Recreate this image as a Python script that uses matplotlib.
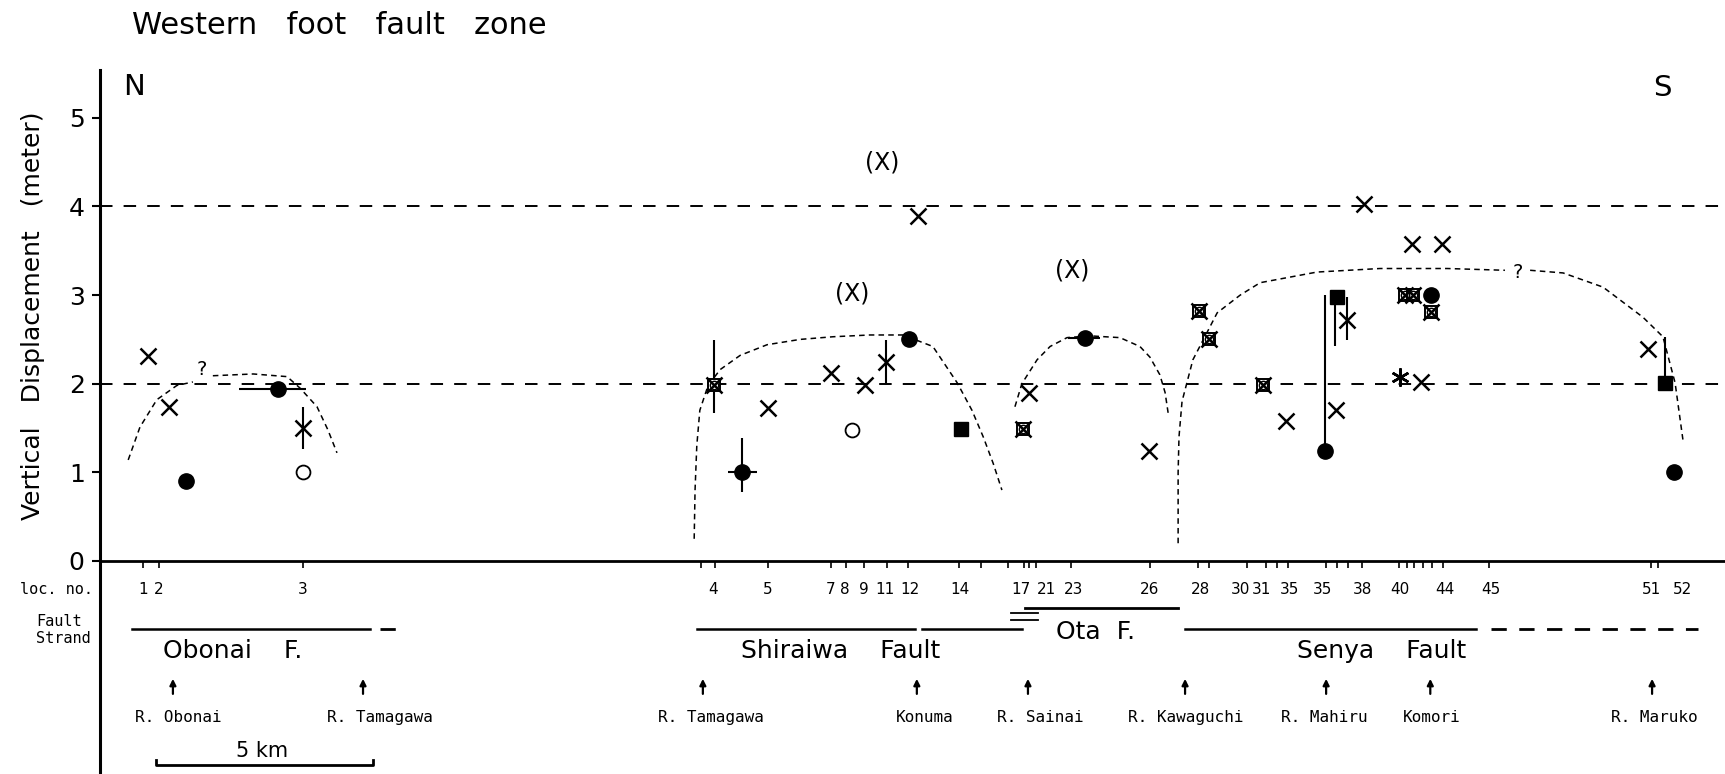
import matplotlib
matplotlib.use('Agg')
import matplotlib.pyplot as plt

plt.rcParams['lines.scale_dashes'] = False
plt.rcParams['font.family'] = 'DejaVu Sans'

# locality numbers along strike, km from the left axis
loc_labels = ['1', '2', '3', '4', '5', '7', '8', '9', '11', '12', '14', '17', '21', '23', '26',
              '28', '30', '31', '35', '35', '38', '40', '44', '45', '51', '52']
loc_km = [0.99, 1.36, 4.68, 14.12, 15.39, 16.84, 17.17, 17.60, 18.09, 18.66, 19.82, 21.22, 21.80,
          22.44, 24.19, 25.35, 26.27, 26.77, 27.40, 28.16, 29.08, 29.95, 30.99, 32.05, 35.74, 36.45]
tick_km = [0.99, 1.36, 4.68, 13.85, 14.17, 15.39, 16.84, 17.19, 17.60, 18.14, 18.62, 19.79, 20.30,
           20.92, 21.29, 21.41, 21.57, 22.37, 24.19, 25.30, 25.55, 26.43, 26.87, 27.12, 27.37, 28.25,
           28.50, 28.76, 29.08, 29.93, 30.12, 30.28, 30.48, 30.69, 30.94, 32.00, 35.74, 35.90]

# vertical displacement (m) by symbol type
cross_km = [1.11, 1.59, 15.39, 16.84, 17.63, 18.85, 21.41, 24.17, 27.33, 28.48, 29.12, 30.23, 30.92, 30.44, 35.67]
cross_m = [2.31, 1.74, 1.73, 2.12, 1.98, 3.89, 1.90, 1.24, 1.58, 1.70, 4.03, 3.58, 3.58, 2.02, 2.39]
dot_km = [1.98, 4.10, 18.64, 14.79, 22.70, 28.23, 30.67, 36.27]
dot_m = [0.90, 1.94, 2.50, 1.00, 2.52, 1.24, 3.00, 1.00]
ring_km = [4.68, 17.33]
ring_m = [1.00, 1.48]
square_km = [19.84, 28.50, 36.06]
square_m = [1.49, 2.98, 2.01]
boxed_km = [14.15, 21.27, 25.32, 25.55, 26.80, 30.07, 30.25, 30.67]
boxed_m = [1.99, 1.49, 2.82, 2.51, 1.99, 3.00, 3.00, 2.81]
star_km = [29.95]
star_m = [2.08]
paren_km = [18.02, 17.33, 22.40]
paren_m = [4.50, 3.02, 3.28]

# crosses carrying a vertical error bar
xbar_km = [4.68, 18.11, 28.73]
xbar_m = [1.50, 2.25, 2.72]

# error bars
vbar_km = [4.68, 18.11, 28.73, 14.15, 14.79, 28.23, 28.45, 36.06]
vbar_lo = [1.26, 2.01, 2.49, 1.67, 0.78, 1.24, 2.42, 2.01]
vbar_hi = [1.74, 2.49, 2.98, 2.49, 1.39, 3.00, 2.98, 2.53]
hbar_m = [1.94, 1.00, 2.52]
hbar_lo = [3.20, 14.47, 22.30]
hbar_hi = [4.75, 15.14, 23.04]

# inferred displacement envelopes
obonai_a_km = [0.65, 0.92, 1.31, 1.77, 2.14]
obonai_a_m = [1.14, 1.51, 1.82, 1.98, 2.02]
obonai_b_km = [2.60, 3.53, 4.31, 4.61, 5.00, 5.25, 5.46]
obonai_b_m = [2.09, 2.11, 2.08, 1.95, 1.74, 1.48, 1.22]
shiraiwa_km = [13.69, 13.71, 13.75, 13.82, 14.01, 14.29, 14.75, 15.37, 16.13, 16.89, 17.74, 18.50,
               19.19, 19.75, 20.09, 20.35, 20.58, 20.78]
shiraiwa_m = [0.25, 0.80, 1.30, 1.70, 1.98, 2.16, 2.32, 2.44, 2.50, 2.53, 2.55, 2.55,
              2.42, 2.01, 1.70, 1.40, 1.10, 0.80]
ota_km = [21.08, 21.24, 21.59, 21.89, 22.28, 22.81, 23.50, 23.96, 24.19, 24.42, 24.54, 24.61]
ota_m = [1.74, 2.00, 2.27, 2.42, 2.52, 2.54, 2.52, 2.42, 2.30, 2.10, 1.90, 1.67]
senya_a_km = [24.84, 24.84, 24.86, 24.93, 25.18, 25.74, 26.27, 26.73, 28.04, 29.49, 31.04, 32.37]
senya_a_m = [0.20, 1.00, 1.40, 1.80, 2.27, 2.80, 3.00, 3.14, 3.26, 3.30, 3.30, 3.28]
senya_b_km = [32.95, 33.71, 34.63, 35.55, 36.01, 36.29, 36.47]
senya_b_m = [3.28, 3.25, 3.09, 2.75, 2.53, 2.01, 1.37]

# fault strands (km ranges)
strand_solid = [(0.74, 6.22), (13.76, 18.78), (18.94, 21.24), (25.00, 31.71)]
strand_dashed = [(6.45, 6.98), (32.05, 36.82)]
ota_upper = (21.31, 24.84)
ota_double = (20.99, 21.61)
fault_names = ['Obonai    F.', 'Shiraiwa    Fault', 'Ota  F.', 'Senya    Fault']
fault_name_km = [3.06, 17.07, 22.93, 29.52]
fault_name_m = [-1.02, -1.02, -0.80, -1.02]

rivers = ['R. Obonai', 'R. Tamagawa', 'R. Tamagawa', 'Konuma', 'R. Sainai', 'R. Kawaguchi',
          'R. Mahiru', 'Komori', 'R. Maruko']
river_arrow_km = [1.68, 6.06, 13.89, 18.82, 21.38, 25.00, 28.25, 30.65, 35.76]
river_label_km = [1.80, 6.45, 14.08, 19.00, 21.66, 25.02, 28.20, 30.69, 35.81]

fig = plt.figure(figsize=(17.25, 7.74), dpi=100)
ax = fig.add_axes([100 / 1725, 0, 1625 / 1725, 704 / 774])
ax.set_xlim(0, 37.44)
ax.set_ylim(-2.404, 5.54)
for s in ['top', 'right', 'bottom']:
    ax.spines[s].set_visible(False)
ax.spines['left'].set_linewidth(2.2)
ax.set_xticks([])
ax.set_yticks(range(6))
ax.set_yticklabels(['0', '1', '2', '3', '4', '5'], fontsize=18)
ax.tick_params(axis='y', length=6, width=1.5, pad=5)

# base line and reference levels
ax.axhline(0, color='k', lw=2)
for lev in [2, 4]:
    ax.axhline(lev, color='k', lw=1.4, dashes=(9, 8))
ax.vlines(tick_km, -0.08, 0, color='k', lw=1.2)
for x, lab in zip(loc_km, loc_labels):
    ax.text(x, -0.32, lab, ha='center', va='center', fontsize=11)

# envelopes
for cx, cy in [(obonai_a_km, obonai_a_m), (obonai_b_km, obonai_b_m), (shiraiwa_km, shiraiwa_m),
               (ota_km, ota_m), (senya_a_km, senya_a_m), (senya_b_km, senya_b_m)]:
    ax.plot(cx, cy, color='k', lw=1.1, dashes=(4, 3))
ax.text(2.35, 2.16, '?', ha='center', va='center', fontsize=14)
ax.text(32.67, 3.26, '?', ha='center', va='center', fontsize=14)

# bars
ax.vlines(vbar_km, vbar_lo, vbar_hi, color='k', lw=1.5)
ax.hlines(hbar_m, hbar_lo, hbar_hi, color='k', lw=1.5)

# symbols
ax.plot(cross_km, cross_m, ls='none', marker='x', ms=11, mew=1.8, color='k')
ax.plot(xbar_km, xbar_m, ls='none', marker='x', ms=11, mew=1.8, color='k')
ax.plot(dot_km, dot_m, ls='none', marker='o', ms=11, color='k')
ax.plot(ring_km, ring_m, ls='none', marker='o', ms=10, mfc='white', mec='k', mew=1.3)
ax.plot(square_km, square_m, ls='none', marker='s', ms=10, color='k')
ax.plot(boxed_km, boxed_m, ls='none', marker='s', ms=9, mfc='white', mec='k', mew=1.4)
ax.plot(boxed_km, boxed_m, ls='none', marker='o', ms=6, mfc='none', mec='k', mew=1.0)
ax.plot(boxed_km, boxed_m, ls='none', marker='x', ms=11, mew=1.8, color='k')
ax.plot(star_km, star_m, ls='none', marker=(6, 2, 0), ms=13, mew=1.8, color='k')
for x, y in zip(paren_km, paren_m):
    ax.text(x, y, '(X)', ha='center', va='center', fontsize=17)

ax.text(0.53, 5.51, 'N', ha='left', va='top', fontsize=21)
ax.text(35.99, 5.34, 'S', ha='center', va='center', fontsize=21)

# fault strand row
for a, b in strand_solid:
    ax.plot([a, b], [-0.77, -0.77], color='k', lw=1.8)
for a, b in strand_dashed:
    ax.plot([a, b], [-0.77, -0.77], color='k', lw=2, dashes=(11, 9))
ax.plot(ota_upper, [-0.53, -0.53], color='k', lw=2)
ax.plot(ota_double, [-0.59, -0.59], color='k', lw=1.3)
ax.plot(ota_double, [-0.67, -0.67], color='k', lw=1.3)
for name, x, y in zip(fault_names, fault_name_km, fault_name_m):
    ax.text(x, y, name, ha='center', va='center', fontsize=18)

# rivers
for x in river_arrow_km:
    ax.annotate('', xy=(x, -1.33), xytext=(x, -1.50),
                arrowprops=dict(arrowstyle='-|>', lw=1.6, color='k', mutation_scale=9,
                                shrinkA=0, shrinkB=0))
for x, name in zip(river_label_km, rivers):
    ax.text(x, -1.77, name, ha='center', va='center', fontsize=11.5, family='DejaVu Sans Mono')

# scale bar
ax.plot([1.29, 1.29, 6.29, 6.29], [-2.25, -2.30, -2.30, -2.25], color='k', lw=2)
ax.text(3.73, -2.15, '5 km', ha='center', va='center', fontsize=15)

# row labels and axis title
ax.text(-0.16, -0.32, 'loc. no.', ha='right', va='center', fontsize=11, family='DejaVu Sans Mono')
ax.text(-1.47, -0.78, 'Fault\nStrand', ha='left', va='center', fontsize=11,
        family='DejaVu Sans Mono', linespacing=1.1)
ax.text(-1.55, 2.77, 'Vertical   Displacement   (meter)', rotation=90, ha='center', va='center',
        fontsize=18)
fig.text(132 / 1725, 1 - 26 / 774, 'Western   foot   fault   zone', ha='left', va='center',
         fontsize=22)

fig.savefig('out.png', dpi=100)
